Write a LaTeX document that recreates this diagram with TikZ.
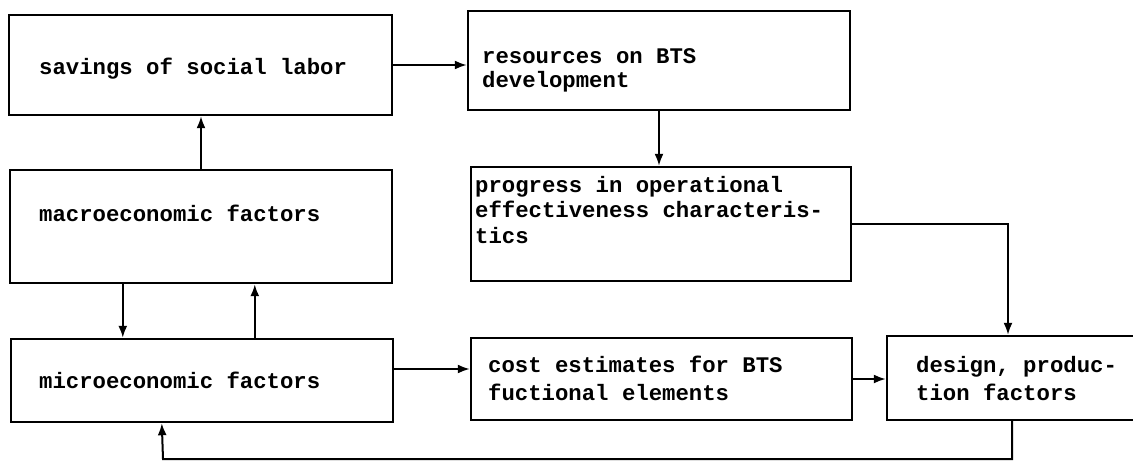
\documentclass[tikz,border=0pt]{standalone}
\usepackage{fontspec}
\setmainfont{Liberation Mono}
\usetikzlibrary{arrows.meta}

\tikzset{
  box/.style={draw, line width=2.4pt, inner sep=0pt, rectangle},
  lbl/.style={anchor=base west, inner sep=0pt, align=left,
    font=\bfseries\fontsize{22.3}{27}\selectfont},
  arr/.style={line width=2pt, -{Latex[length=12pt,width=9pt]}},
}

\begin{document}
\begin{tikzpicture}[x=1pt,y=-1pt]
\useasboundingbox (0,0) rectangle (1133,461);
\clip (0,0) rectangle (1133,461);

% boxes
\node[box, minimum width=383pt, minimum height=100pt] (sav) at (200.5,65) {};
\node[box, minimum width=382pt, minimum height=99pt]  (res) at (659,60.5) {};
\node[box, minimum width=382pt, minimum height=113pt] (mac) at (201,226.5) {};
\node[box, minimum width=380pt, minimum height=114pt] (prg) at (661,224) {};
\node[box, minimum width=382pt, minimum height=83pt]  (mic) at (202,380.5) {};
\node[box, minimum width=381pt, minimum height=82pt]  (cst) at (661.5,379) {};
\node[box, minimum width=263pt, minimum height=84pt]  (des) at (1018.5,378) {};

% labels (multi-line labels are placed by the baseline of their last line)
\node[lbl] (savT) at (39,74) {savings of social labor};
\node[lbl, font=\bfseries\fontsize{22.3}{24}\selectfont] (resT) at (482,87) {resources on BTS\\development};
\node[lbl] (macT) at (39,221) {macroeconomic factors};
\node[lbl, font=\bfseries\fontsize{22.3}{25.5}\selectfont] (prgT) at (475,243) {progress in operational\\effectiveness characteris-\\tics};
\node[lbl] (micT) at (39,388) {microeconomic factors};
\node[lbl, font=\bfseries\fontsize{22.3}{28}\selectfont] (cstT) at (488,400) {cost estimates for BTS\\fuctional elements};
\node[lbl, font=\bfseries\fontsize{22.3}{28}\selectfont] (desT) at (916,400) {design, produc-\\tion factors};

% connectors
\draw[arr] (sav.east) -- (sav.east -| res.west);
\draw[arr] (res.south) -- (res.south |- prg.north);
\draw[arr] (mac.north) -- (mac.north |- sav.south);
\draw[arr] ([xshift=114pt]mac.south west) -- ([xshift=114pt]mac.south west |- mic.north);
\draw[arr] ([xshift=245pt]mic.north west) -- ([xshift=245pt]mic.north west |- mac.south);
\draw[arr] ([yshift=11.5pt]mic.east) -- ([yshift=11.5pt]mic.east -| cst.west);
\draw[arr] (cst.east) -- (cst.east -| des.west);
\draw[arr] (prg.east) -| ([xshift=-10.5pt]des.north);

% feedback loop along the bottom edge
\coordinate (lp) at (163,459);
\draw[arr] ([xshift=-6.5pt]des.south) |- (lp) -- ([xshift=152pt]mic.south west);
\end{tikzpicture}
\end{document}
